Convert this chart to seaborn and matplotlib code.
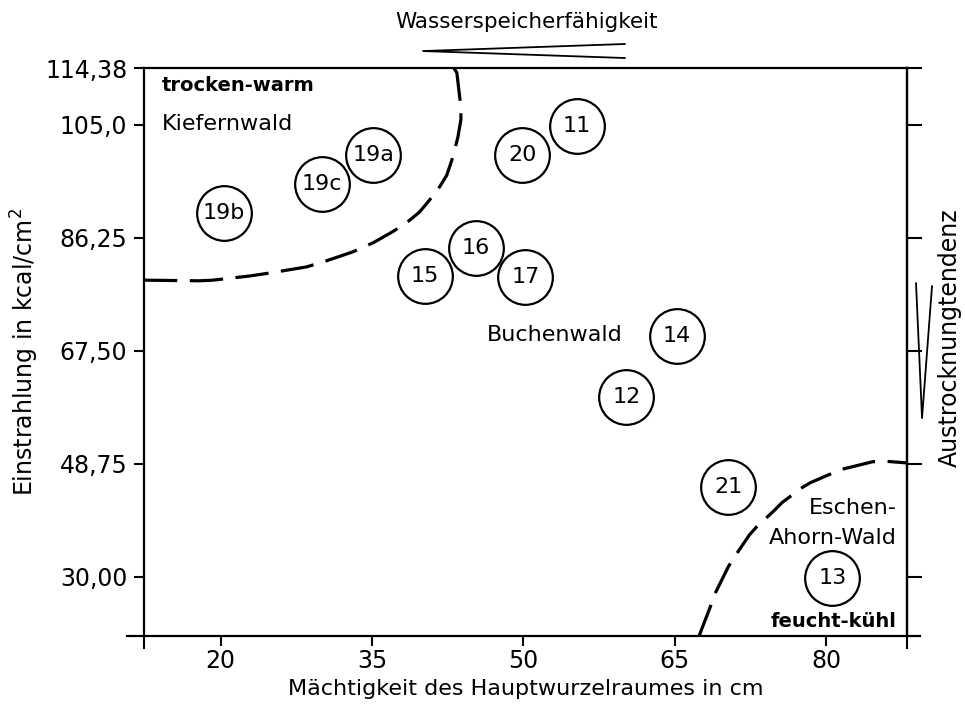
"""
Einstrahlung vs. Mächtigkeit des Hauptwurzelraumes (Waldgesellschaften).
"""

import matplotlib
matplotlib.use('Agg')
import matplotlib.pyplot as plt
import pandas as pd
import seaborn as sns

# --- data -----------------------------------------------------------------
site_labels = ['19b', '19c', '19a', '20', '11', '16', '15', '17',
               '14', '12', '21', '13']
root_depth = [20.3, 30.0, 35.1, 49.9, 55.3, 45.3, 40.2, 50.2,
              65.2, 60.2, 70.3, 80.6]
radiation = [90.3, 95.2, 100.0, 100.0, 104.8, 84.5, 79.9, 79.7,
             70.0, 59.9, 44.9, 29.8]

# boundary Kiefernwald / Buchenwald (dashed)
pine_x = [12.4, 17.9, 19.2, 22.9, 24.9, 28.5, 30.1, 33.1, 35.1, 37.0,
          38.4, 39.7, 40.7, 41.7, 42.4, 43.0, 43.5, 43.8, 43.8, 43.6,
          43.4, 43.1]
pine_y = [79.2, 79.1, 79.2, 79.9, 80.4, 81.4, 82.2, 83.9, 85.4, 87.2,
          88.7, 90.5, 92.5, 94.7, 96.6, 99.6, 102.9, 105.8, 107.9, 110.7,
          113.6, 114.38]

# boundary Buchenwald / Eschen-Ahorn-Wald (dashed)
ash_x = [67.4, 68.5, 69.0, 70.3, 70.9, 72.4, 73.1, 74.9, 75.6, 77.6,
         78.4, 80.6, 81.2, 84.6, 85.7, 88.0]
ash_y = [20.2, 25.0, 27.3, 31.7, 33.3, 37.0, 38.3, 41.1, 42.3, 44.8,
         45.6, 47.2, 47.7, 49.1, 49.2, 48.9]

x_ticks = [20, 35, 50, 65, 80]
y_ticks = [114.38, 105.0, 86.25, 67.5, 48.75, 30.0]
y_tick_labels = ['114,38', '105,0', '86,25', '67,50', '48,75', '30,00']

x_lim = (12.4, 88.0)
y_lim = (20.2, 114.38)

sns.set_style('ticks')
plt.rcParams['font.family'] = ['DejaVu Sans']
plt.rcParams['lines.scale_dashes'] = False
plt.rcParams['text.color'] = 'black'
plt.rcParams['axes.labelcolor'] = 'black'
plt.rcParams['xtick.color'] = 'black'
plt.rcParams['ytick.color'] = 'black'

fig = plt.figure(figsize=(9.65, 7.1), dpi=100)
ax = fig.add_axes([0.1492, 0.1042, 0.7907, 0.80])

df = pd.DataFrame({'x': root_depth, 'y': radiation, 'label': site_labels})

# dashed region boundaries
ax.plot(pine_x, pine_y, color='black', lw=2.3, dashes=(24, 9),
        dash_capstyle='butt', zorder=2)
ax.plot(ash_x, ash_y, color='black', lw=2.3, dashes=(24, 9),
        dash_capstyle='butt', zorder=2)

# circled site numbers
sns.scatterplot(data=df, x='x', y='y', s=1550, color='white',
                edgecolor='black', linewidth=1.6, zorder=3, ax=ax,
                legend=False)
for _, row in df.iterrows():
    ax.text(row['x'], row['y'], row['label'], ha='center', va='center',
            fontsize=16, zorder=4)

# region texts
ax.text(14.15, 111.4, 'trocken-warm', fontsize=14, fontweight='bold',
        ha='left', va='center')
ax.text(14.15, 105.1, 'Kiefernwald', fontsize=16, ha='left', va='center')
ax.text(46.4, 70.1, 'Buchenwald', fontsize=16, ha='left', va='center')
ax.text(87.0, 41.4, 'Eschen-', fontsize=16, ha='right', va='center')
ax.text(87.0, 36.5, 'Ahorn-Wald', fontsize=16, ha='right', va='center')
ax.text(87.0, 22.6, 'feucht-kühl', fontsize=14, fontweight='bold',
        ha='right', va='center')

# axes, ticks, spines
ax.set_xlim(*x_lim)
ax.set_ylim(*y_lim)
ax.set_xticks(x_ticks)
ax.set_xticks(list(x_lim), minor=True)
ax.set_yticks(y_ticks)
ax.set_yticklabels(y_tick_labels)
ax.tick_params(axis='both', which='major', direction='out', length=7,
               width=1.5, labelsize=17, pad=5)
ax.tick_params(axis='x', which='major', pad=2)
ax.tick_params(axis='x', which='minor', direction='out', length=9.5,
               width=1.5)
for side in ['left', 'right', 'top', 'bottom']:
    ax.spines[side].set_visible(True)
    ax.spines[side].set_linewidth(1.6)
    ax.spines[side].set_color('black')
ax.spines['bottom'].set_bounds(10.7, 89.3)

ax_r = ax.twinx()
ax_r.set_ylim(*y_lim)
ax_r.set_yticks(y_ticks)
ax_r.tick_params(axis='y', direction='out', length=11, width=1.5,
                 labelright=False)
for side in ['left', 'top', 'bottom']:
    ax_r.spines[side].set_visible(False)
ax_r.spines['right'].set_linewidth(1.6)
ax_r.spines['right'].set_color('black')

ax.set_xlabel('Mächtigkeit des Hauptwurzelraumes in cm', fontsize=16,
              labelpad=5)
ax.set_ylabel('Einstrahlung in kcal/cm$^2$', fontsize=17, labelpad=3)

# gradient wedges outside the frame
ax.plot([0.6304, 0.3657, 0.6304], [1.0423, 1.0299, 1.0176],
        transform=ax.transAxes, clip_on=False, color='black', lw=1.3)
ax.text(0.502, 1.081, 'Wasserspeicherfähigkeit', transform=ax.transAxes,
        fontsize=15.5, ha='center', va='center')
ax.plot([1.0118, 1.0197, 1.0328], [0.6215, 0.3838, 0.6162],
        transform=ax.transAxes, clip_on=False, color='black', lw=1.3)
ax.text(1.056, 0.526, 'Austrocknungtendenz', transform=ax.transAxes,
        fontsize=17, rotation=90, ha='center', va='center')

fig.savefig('out.png', dpi=100)
